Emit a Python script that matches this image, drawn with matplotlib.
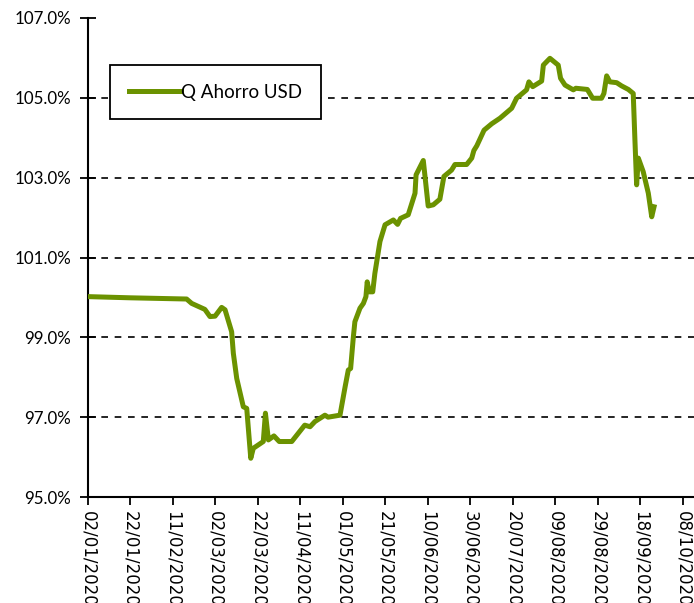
import matplotlib
matplotlib.use("Agg")
import matplotlib.pyplot as plt
import numpy as np
import pandas as pd

# valores (dias desde 02/01/2020, valor en %)
dias = [0, 20, 46.4, 48.8, 55, 57.4, 59.8, 62.9, 64.5, 67.6, 68.4, 70, 73.1, 74.7,
        76.6, 77.8, 82.5, 83.5, 84.9, 87.5, 90, 93.5, 95.9, 102, 104.5, 106.8,
        111.5, 113, 118.6, 121, 122.5, 123.6, 124.9, 125.6, 128, 129.6, 130.8,
        131.4, 132.4, 134, 135, 137.4, 139.8, 143.7, 145.7, 147.1, 150.7, 153.9,
        154.4, 157.8, 160.1, 162.5, 165.6, 167.5, 171.1, 172.7, 178.2, 180.6,
        181.6, 183, 186.4, 190, 193.9, 199.4, 201.7, 206.4, 207.5, 209.3, 213.5,
        214.3, 217.4, 221.3, 222.4, 224.5, 228.4, 229.6, 235, 237.5, 241.7,
        242.8, 244.1, 245.6, 248.8, 251.1, 254.3, 256.6, 257.4, 258.2, 259,
        261.3, 263.7, 265.3, 266.4]
valores = [100.02, 99.99, 99.96, 99.85, 99.70, 99.52, 99.53, 99.75, 99.69, 99.14,
           98.60, 97.97, 97.26, 97.22, 95.97, 96.22, 96.39, 97.10, 96.43, 96.53,
           96.39, 96.39, 96.39, 96.80, 96.76, 96.89, 97.05, 97.00, 97.05, 97.76,
           98.18, 98.22, 99.02, 99.39, 99.73, 99.85, 100.02, 100.39, 100.14,
           100.14, 100.60, 101.40, 101.82, 101.94, 101.83, 101.98, 102.07, 102.61,
           103.07, 103.43, 102.29, 102.32, 102.46, 103.03, 103.19, 103.33, 103.33,
           103.49, 103.68, 103.80, 104.19, 104.35, 104.49, 104.74, 104.99, 105.20,
           105.40, 105.28, 105.42, 105.82, 105.99, 105.82, 105.49, 105.32, 105.20,
           105.24, 105.21, 104.99, 104.99, 105.11, 105.55, 105.40, 105.38, 105.30,
           105.21, 105.11, 103.94, 102.82, 103.49, 103.15, 102.61, 102.02, 102.27]

inicio = pd.Timestamp("2020-01-02")
fechas = [inicio + pd.Timedelta(days=d) for d in dias]
ticks_fechas = pd.date_range("2020-01-02", "2020-10-08", freq="20D")
ticks_y = [95, 97, 99, 101, 103, 105, 107]
lineas_guia = [97, 99, 101, 103, 105]

verde = "#6b9200"

fig = plt.figure(figsize=(6.94, 6.03), dpi=100)
ax = fig.add_axes([88 / 694, 1 - 497 / 603, 606 / 694, 479 / 603])

for g in lineas_guia:
    ax.axhline(g, color="black", lw=1.2, ls=(0, (4, 4)), zorder=1)

ax.plot(fechas, valores, color=verde, lw=3.6, solid_joinstyle="round",
        label="Q Ahorro USD", zorder=3)

ax.set_ylim(95, 107)
ax.set_xlim(inicio, inicio + pd.Timedelta(days=285.2))
ax.set_yticks(ticks_y)
ax.set_yticklabels([f"{v:.1f}%" for v in ticks_y], fontfamily="Lato", fontsize=12.2)
ax.set_xticks(ticks_fechas)
ax.set_xticklabels([d.strftime("%d/%m/%Y") for d in ticks_fechas],
                   rotation=-90, fontfamily="DejaVu Sans", fontsize=12,
                   va="top", ha="center")

for s in ["top", "right"]:
    ax.spines[s].set_visible(False)
for s in ["left", "bottom"]:
    ax.spines[s].set_linewidth(1.5)
ax.tick_params(axis="x", direction="out", length=6, width=1.3, color="black", pad=4)
ax.tick_params(axis="y", direction="inout", length=12, width=1.3, color="black", pad=6)

leg = ax.legend(loc="upper left", bbox_to_anchor=(0.036, 0.902), frameon=True,
                fancybox=False, prop={"family": "Lato", "size": 13.5},
                handlelength=2.8, handletextpad=0.0, borderpad=1.0,
                borderaxespad=0)
leg.get_frame().set_edgecolor("black")
leg.get_frame().set_linewidth(1.3)
leg.get_frame().set_alpha(1)
leg.set_zorder(5)

fig.savefig("out.png", dpi=100)
